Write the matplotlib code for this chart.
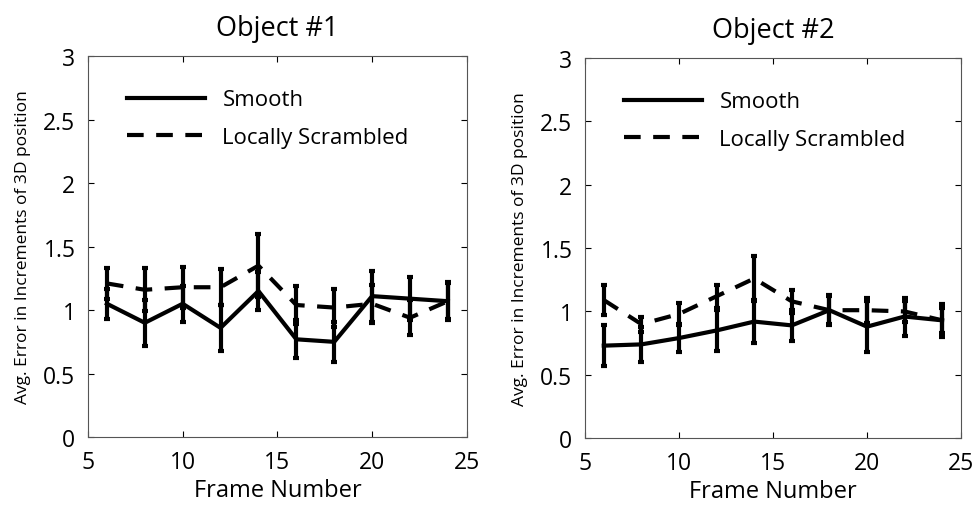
import numpy as np
import matplotlib.pyplot as plt
from matplotlib.lines import Line2D

plt.rcParams['font.family'] = ['Open Sans', 'DejaVu Sans']

frames = [6, 8, 10, 12, 14, 16, 18, 20, 22, 24]

# Object #1
obj1_smooth = [1.05, 0.90, 1.05, 0.86, 1.15, 0.77, 0.75, 1.11, 1.09, 1.07]
obj1_smooth_err = [0.12, 0.18, 0.14, 0.18, 0.15, 0.15, 0.16, 0.20, 0.17, 0.15]
obj1_scram = [1.21, 1.16, 1.18, 1.18, 1.35, 1.04, 1.02, 1.05, 0.94, 1.07]
obj1_scram_err = [0.12, 0.17, 0.16, 0.14, 0.25, 0.15, 0.15, 0.15, 0.14, 0.14]

# Object #2
obj2_smooth = [0.73, 0.74, 0.79, 0.85, 0.92, 0.89, 1.01, 0.88, 0.96, 0.93]
obj2_smooth_err = [0.16, 0.14, 0.11, 0.16, 0.17, 0.12, 0.12, 0.20, 0.15, 0.13]
obj2_scram = [1.09, 0.90, 0.98, 1.12, 1.26, 1.08, 1.01, 1.01, 1.00, 0.93]
obj2_scram_err = [0.12, 0.06, 0.09, 0.09, 0.18, 0.09, 0.11, 0.10, 0.08, 0.10]

fig = plt.figure(figsize=(9.74, 5.1), dpi=100)
ax1 = fig.add_axes([0.0903, 0.141, 0.389, 0.747])
ax2 = fig.add_axes([0.6006, 0.139, 0.386, 0.745])

paneles = [
    (ax1, "Object #1", obj1_smooth, obj1_smooth_err, obj1_scram, obj1_scram_err),
    (ax2, "Object #2", obj2_smooth, obj2_smooth_err, obj2_scram, obj2_scram_err),
]

guiones = (4, 3)

for ax, titulo, suave, err_suave, mezcla, err_mezcla in paneles:
    ax.errorbar(frames, suave, yerr=err_suave, color='black', lw=3,
                elinewidth=3, capsize=2.5, capthick=3)
    l = ax.errorbar(frames, mezcla, yerr=err_mezcla, color='black', lw=3,
                    elinewidth=3, capsize=2.5, capthick=3, linestyle='--')
    l[0].set_dashes(guiones)
    ax.set_xlim(5, 25)
    ax.set_ylim(0, 3)
    ax.set_xticks([5, 10, 15, 20, 25])
    ax.set_yticks([0, 0.5, 1, 1.5, 2, 2.5, 3])
    ax.set_yticklabels(['0', '0.5', '1', '1.5', '2', '2.5', '3'])
    ax.tick_params(direction='in', top=True, right=True, labelsize=16.5,
                   length=4, width=0.8, pad=9)
    for s in ax.spines.values():
        s.set_linewidth(0.8)
        s.set_color('#555555')
    ax.set_title(titulo, fontsize=19.5, pad=15)
    ax.set_xlabel("Frame Number", fontsize=17, labelpad=3)
    ax.set_ylabel("Avg. Error in Increments of 3D position", fontsize=12.5, labelpad=9)

    # leyenda sin las barras de error
    h_suave = Line2D([], [], color='black', lw=3)
    h_mezcla = Line2D([], [], color='black', lw=3, linestyle='--', dashes=guiones)
    ax.legend([h_suave, h_mezcla], ["Smooth", "Locally Scrambled"],
              loc='upper left', frameon=False, fontsize=16,
              handlelength=3.5, bbox_to_anchor=(0.05, 0.965),
              labelspacing=0.75)

plt.savefig("out.png", dpi=100)
